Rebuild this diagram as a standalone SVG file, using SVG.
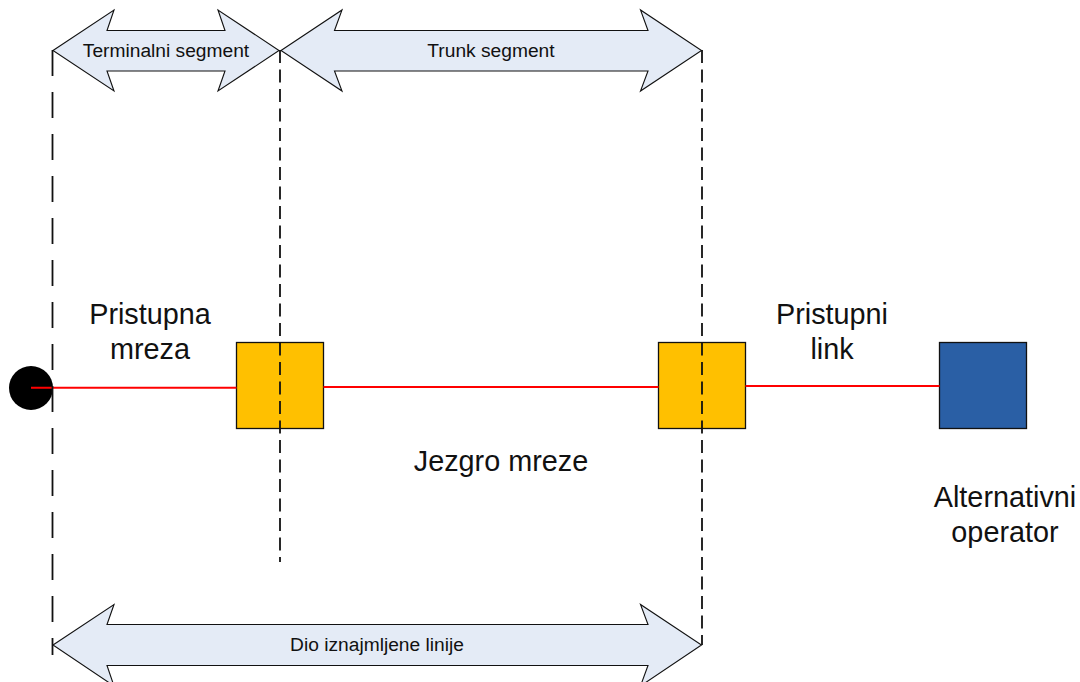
<svg xmlns="http://www.w3.org/2000/svg" width="1080" height="682" viewBox="0 0 1080 682">
<style>
.arrow{fill:#e4ebf6;stroke:#111;stroke-width:1.1;stroke-linejoin:miter}
.box{stroke:#111;stroke-width:1.3}
.red{stroke:#f00;stroke-width:1.9;fill:none}
.dl{stroke:#111;stroke-width:1.8;fill:none;stroke-dasharray:26 16}
.ds{stroke:#111;stroke-width:1.8;fill:none;stroke-dasharray:13 6.5}
text{font-family:"Liberation Sans",Arial,sans-serif;fill:#111;text-anchor:middle}
.s{font-size:19.2px}
.l{font-size:28.8px}
</style>
<rect width="1080" height="682" fill="#fff"/>
<g id="node-start"><circle cx="31" cy="388" r="22" fill="#000"/></g>
<g id="node-switch1"><rect class="box" x="236.500" y="342.500" width="87" height="86" fill="#ffc000"/></g>
<g id="node-switch2"><rect class="box" x="658.500" y="342.500" width="87" height="86" fill="#ffc000"/></g>
<g id="node-operator"><rect class="box" x="939.500" y="342.500" width="87" height="86" fill="#2a5fa5"/></g>
<g id="connectors">
<path class="red" d="M31 387.700H236.500"/>
<path class="red" d="M323.500 387H658.500"/>
<path class="red" d="M745.500 386H939.500"/>
<path class="dl" d="M52.500 50V655"/>
<path class="ds" d="M280 50V562"/>
<path class="ds" d="M702 50V645"/>
</g>
<g id="arrow-terminal">
<path class="arrow" d="M53 50.500L114 10L107 30.500H225L218 10L279 50.500L218 91L225 71H107L114 91Z"/>
<text class="s" x="166" y="57">Terminalni segment</text>
</g>
<g id="arrow-trunk">
<path class="arrow" d="M281 50.500L342 10L334.500 30.500H648L640.500 10L701.500 50.500L640.500 91L648 71H334.500L342 91Z"/>
<text class="s" x="491" y="57">Trunk segment</text>
</g>
<g id="arrow-dio">
<path class="arrow" d="M53 645L114 604.500L107 624.500H648L640.500 604.500L701.500 645L640.500 686L648 665.500H107L114 686Z"/>
<text class="s" x="377" y="651">Dio iznajmljene linije</text>
</g>
<g id="labels">
<text class="l" x="150" y="324">Pristupna</text>
<text class="l" x="150" y="359">mreza</text>
<text class="l" x="832" y="324">Pristupni</text>
<text class="l" x="832" y="359">link</text>
<text class="l" x="501" y="471">Jezgro mreze</text>
<text class="l" x="1005" y="507">Alternativni</text>
<text class="l" x="1005" y="542">operator</text>
</g>
</svg>
